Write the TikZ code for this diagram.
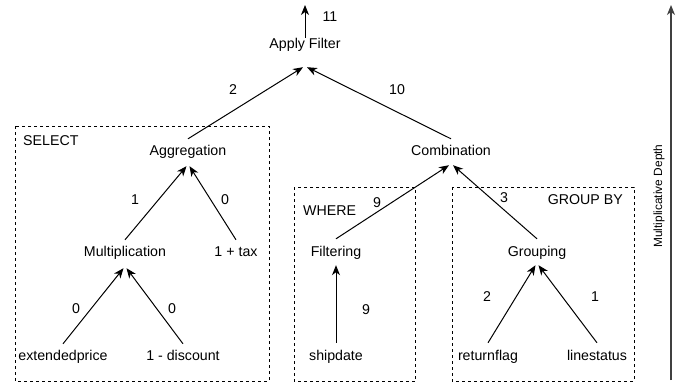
\documentclass[tikz,border=0pt]{standalone}
\usepackage{fontspec}
\setmainfont{Liberation Sans}
\usetikzlibrary{arrows.meta}
\begin{document}
\begin{tikzpicture}[x=1pt,y=-1pt,
  every node/.style={font=\fontsize{14.2}{17}\selectfont},
  op/.style={inner xsep=0pt,inner ysep=6.5pt,text height=10pt,text depth=3pt},
  lbl/.style={inner sep=0pt},
  grp/.style={draw,dash pattern=on 3pt off 3pt,line width=1pt},
  edge/.style={draw,line width=1pt,-{Stealth[length=10pt,width=8pt,inset=3pt]}},
  axis/.style={draw=black!75,line width=1.3pt,-{Stealth[length=10pt,width=8pt,inset=3pt]}}
]
\useasboundingbox (0,0) rectangle (689,384);
% group boxes
\draw[grp] (15,126) rectangle (269,381);
\draw[grp] (294,187) rectangle (415.5,381);
\draw[grp] (452,187) rectangle (634,381);
\node[lbl,anchor=west] (selectlbl) at (23,141) {SELECT};
\node[lbl,anchor=west] (wherelbl) at (303,211) {WHERE};
\node[lbl,anchor=east] (grouplbl) at (623,200) {GROUP BY};
% operation nodes
\node[op] (apply) at (305,45) {Apply Filter};
\node[op] (agg) at (188,152) {Aggregation};
\node[op] (comb) at (451,152) {Combination};
\node[op] (mult) at (125,253) {Multiplication};
\node[op] (tax) at (236,253) {1 + tax};
\node[op] (ext) at (63,357) {extendedprice};
\node[op] (disc) at (183,357) {1 - discount};
\node[op] (filt) at (336,253) {Filtering};
\node[op] (ship) at (336,357) {shipdate};
\node[op] (grpn) at (537,253) {Grouping};
\node[op] (ret) at (488,357) {returnflag};
\node[op] (line) at (597,357) {linestatus};
\coordinate (top) at (305,5);
% connectors
\draw[edge] ([yshift=-6pt]apply.north) -- (top);
\draw[edge] (agg.north) -- ([xshift=-2pt,yshift=-9pt]apply.south);
\draw[edge] (comb.north) -- ([xshift=2pt,yshift=-9pt]apply.south);
\draw[edge] (mult.north) -- ([xshift=-1.5pt,yshift=-1pt]agg.south);
\draw[edge] (tax.north) -- ([xshift=1.5pt,yshift=-1pt]agg.south);
\draw[edge] (ext.north) -- ([xshift=-1.5pt,yshift=-2pt]mult.south);
\draw[edge] (disc.north) -- ([xshift=1.5pt,yshift=-2pt]mult.south);
\draw[edge] ([yshift=1pt]filt.north) -- ([xshift=-2pt]comb.south);
\draw[edge] ([yshift=1pt]grpn.north) -- ([xshift=2pt]comb.south);
\draw[edge] ([yshift=1pt]ship.north) -- ([yshift=1pt]filt.south);
\draw[edge] ([yshift=1pt]ret.north) -- ([xshift=-1.5pt,yshift=1pt]grpn.south);
\draw[edge] ([yshift=1pt]line.north) -- ([xshift=1.5pt,yshift=1pt]grpn.south);
% edge labels
\node[lbl] (l11) at (330,17) {11};
\node[lbl] (l2) at (233,90) {2};
\node[lbl] (l10) at (397,90) {10};
\node[lbl] (l1a) at (135,200) {1};
\node[lbl] (l0a) at (225,200) {0};
\node[lbl] (l0b) at (76,309) {0};
\node[lbl] (l0c) at (172,309) {0};
\node[lbl] (l9a) at (377,203) {9};
\node[lbl] (l9b) at (366,310) {9};
\node[lbl] (l3) at (504,198) {3};
\node[lbl] (l2b) at (487,297) {2};
\node[lbl] (l1b) at (595,297) {1};
% axis
\coordinate (axbot) at (671,380);
\coordinate (axtop) at (671,5);
\draw[axis] (axbot) -- (axtop);
\node[lbl,rotate=90,font=\fontsize{11.9}{14}\selectfont] (axlbl) at (659,196) {Multiplicative Depth};
\end{tikzpicture}
\end{document}
